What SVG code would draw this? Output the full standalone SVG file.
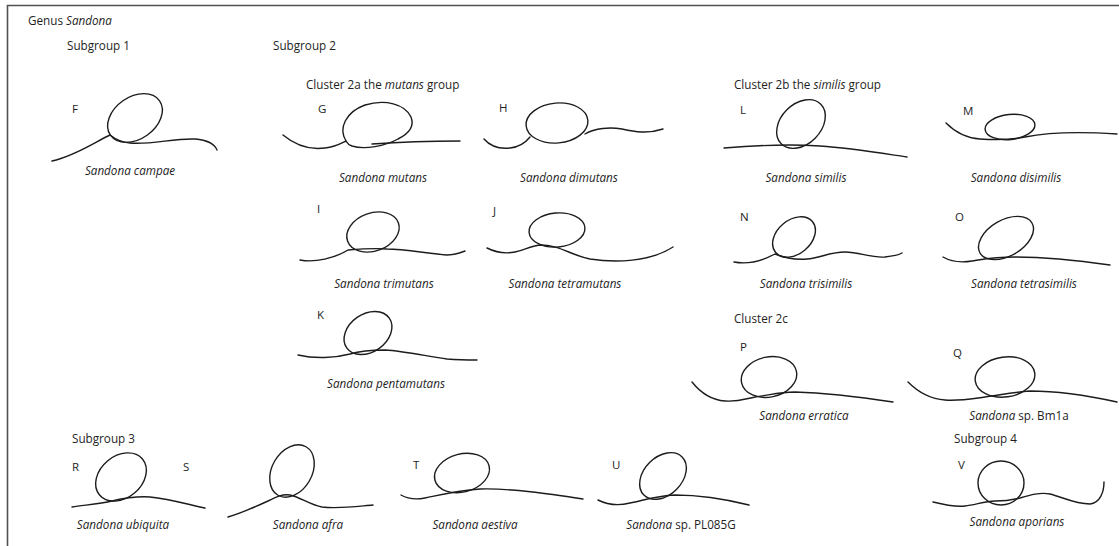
<svg xmlns="http://www.w3.org/2000/svg" width="1119" height="546" viewBox="0 0 1119 546">
  <style>
    text { font-family: "Open Sans", "Noto Sans", "Liberation Sans", sans-serif; font-size: 11.7px; fill: #1e1e1e; }
    .sp { text-anchor: middle; }
    .it { font-style: italic; }
    .lt { font-size: 11.5px; }
    .wire { fill: none; stroke: #1c1c1c; stroke-width: 1.4; stroke-linecap: round; stroke-linejoin: round; }
    .frame { fill: none; stroke: #505050; stroke-width: 1.6; }
  </style>

  <rect width="1119" height="546" fill="#fff"/>
  <!-- open frame: top and left edges only -->
  <path class="frame" d="M7.5,560 V5.5 H1125"/>

  <!-- headings -->
  <g id="headings">
    <text x="28" y="25">Genus <tspan class="it">Sandona</tspan></text>
    <text x="67" y="50">Subgroup 1</text>
    <text x="273" y="50">Subgroup 2</text>
    <text x="306" y="89">Cluster 2a the <tspan class="it">mutans</tspan> group</text>
    <text x="734" y="89">Cluster 2b the <tspan class="it">similis</tspan> group</text>
    <text x="734" y="323">Cluster 2c</text>
    <text x="72" y="443">Subgroup 3</text>
    <text x="954" y="443">Subgroup 4</text>
  </g>

  <!-- Subgroup 1 -->
  <g id="fig-F">
    <text class="lt" x="72" y="113">F</text>
    <ellipse class="wire" cx="135" cy="118" rx="30" ry="21" transform="rotate(-35 135 118)"/>
    <path class="wire" d="M52,161 C75,156 95,142 110,135 C115,139 120,142 130,143 C150,145 175,138 195,139 C208,140 215,145 217,150"/>
    <text class="sp it" x="130" y="175">Sandona campae</text>
  </g>

  <!-- Cluster 2a -->
  <g id="fig-G">
    <text class="lt" x="318" y="113">G</text>
    <path class="wire" d="M346,141 C338,128 346,112 365,105 C385,99 405,104 411,117 C415,127 408,134 398,139 C385,146 365,150 352,146 C349,145 347,143 346,141 Z"/>
    <path class="wire" d="M283,135 C295,145 310,150 325,148 C335,147 340,144 346,141 M372,144 C400,142 430,141 460,141"/>
    <text class="sp it" x="383" y="182">Sandona mutans</text>
  </g>

  <g id="fig-H">
    <text class="lt" x="499" y="112">H</text>
    <ellipse class="wire" cx="557" cy="123" rx="31" ry="20" transform="rotate(-5 557 123)"/>
    <path class="wire" d="M484,139 C490,146 500,149 510,148 C520,147 526,142 530,137 M585,134 C595,128 610,127 622,129 C635,132 648,134 663,129"/>
    <text class="sp it" x="569" y="182">Sandona dimutans</text>
  </g>

  <g id="fig-I">
    <text class="lt" x="317" y="213">I</text>
    <ellipse class="wire" cx="373" cy="232" rx="27" ry="19" transform="rotate(-20 373 232)"/>
    <path class="wire" d="M300,260 C315,263 335,258 348,250 C360,249 375,248 387,249 C405,249 430,254 447,255 C455,255 460,253 465,251"/>
    <text class="sp it" x="384" y="288">Sandona trimutans</text>
  </g>

  <g id="fig-J">
    <text class="lt" x="493" y="215">J</text>
    <ellipse class="wire" cx="557" cy="230" rx="28" ry="17" transform="rotate(-5 557 230)"/>
    <path class="wire" d="M487,248 C495,252 505,254 515,252 C525,250 530,246 540,245 C560,245 570,255 590,259 C615,263 650,262 673,247"/>
    <text class="sp it" x="565" y="288">Sandona tetramutans</text>
  </g>

  <g id="fig-K">
    <text class="lt" x="317" y="319">K</text>
    <ellipse class="wire" cx="368" cy="333" rx="26" ry="19" transform="rotate(-35 368 333)"/>
    <path class="wire" d="M298,355 C315,359 335,358 350,354 C360,351 370,350 385,350 C405,351 430,357 447,359 C460,360 470,360 477,360"/>
    <text class="sp it" x="386" y="388">Sandona pentamutans</text>
  </g>

  <!-- Cluster 2b -->
  <g id="fig-L">
    <text class="lt" x="740" y="114">L</text>
    <ellipse class="wire" cx="801" cy="124" rx="28" ry="20" transform="rotate(-45 801 124)"/>
    <path class="wire" d="M724,148 C760,145 790,144 820,146 C850,148 880,153 907,157"/>
    <text class="sp it" x="806" y="182">Sandona similis</text>
  </g>

  <g id="fig-M">
    <text class="lt" x="963" y="115">M</text>
    <ellipse class="wire" cx="1010" cy="127" rx="25" ry="12.5" transform="rotate(-6 1010 127)"/>
    <path class="wire" d="M946,123 C955,132 965,138 980,139 C995,140 1010,140 1025,137 C1045,133 1070,131 1117,134"/>
    <text class="sp it" x="1016" y="182">Sandona disimilis</text>
  </g>

  <g id="fig-N">
    <text class="lt" x="740" y="221">N</text>
    <ellipse class="wire" cx="794" cy="237" rx="24" ry="17" transform="rotate(-40 794 237)"/>
    <path class="wire" d="M734,262 C745,264 760,262 775,254 C785,258 795,260 807,259 C820,258 830,252 845,252 C860,252 870,258 885,257 C893,256 899,255 902,253"/>
    <text class="sp it" x="806" y="288">Sandona trisimilis</text>
  </g>

  <g id="fig-O">
    <text class="lt" x="955" y="221">O</text>
    <ellipse class="wire" cx="1006" cy="238" rx="30" ry="18" transform="rotate(-30 1006 238)"/>
    <path class="wire" d="M943,257 C950,261 960,263 972,261 C985,259 995,257 1015,257 C1045,257 1075,260 1110,265"/>
    <text class="sp it" x="1024" y="288">Sandona tetrasimilis</text>
  </g>

  <!-- Cluster 2c -->
  <g id="fig-P">
    <text class="lt" x="740" y="351">P</text>
    <ellipse class="wire" cx="769" cy="377" rx="28" ry="20" transform="rotate(-12 769 377)"/>
    <path class="wire" d="M692,382 C700,392 710,400 725,401 C738,402 745,399 755,397 C770,395 780,392 795,392 C830,393 860,397 893,402"/>
    <text class="sp it" x="804" y="420">Sandona erratica</text>
  </g>

  <g id="fig-Q">
    <text class="lt" x="953" y="357">Q</text>
    <ellipse class="wire" cx="1005" cy="377" rx="30" ry="20" transform="rotate(-8 1005 377)"/>
    <path class="wire" d="M908,382 C918,392 930,399 945,400 C960,401 970,399 985,397 C1000,395 1015,392 1030,391 C1060,391 1090,396 1117,402"/>
    <text class="sp" x="1019" y="420"><tspan class="it">Sandona</tspan> sp. Bm1a</text>
  </g>

  <!-- Subgroup 3 -->
  <g id="fig-R">
    <text class="lt" x="72" y="471">R</text>
    <ellipse class="wire" cx="121" cy="477" rx="28" ry="21" transform="rotate(-40 121 477)"/>
    <path class="wire" d="M72,507 C85,505 100,504 112,501 C125,498 135,496 150,497 C170,499 190,505 205,508"/>
    <text class="sp it" x="123" y="529">Sandona ubiquita</text>
  </g>

  <g id="fig-S">
    <text class="lt" x="183" y="471">S</text>
    <ellipse class="wire" cx="292" cy="471" rx="28" ry="20" transform="rotate(-60 292 471)"/>
    <path class="wire" d="M228,517 C238,514 255,507 268,501 C276,497 282,494 290,495 C300,497 310,505 322,507 C340,509 360,506 373,505"/>
    <text class="sp it" x="308" y="529">Sandona afra</text>
  </g>

  <g id="fig-T">
    <text class="lt" x="413" y="469">T</text>
    <ellipse class="wire" cx="462" cy="473" rx="28" ry="19" transform="rotate(-15 462 473)"/>
    <path class="wire" d="M401,495 C408,499 415,500 425,498 C440,495 455,491 480,489 C510,488 550,494 583,499"/>
    <text class="sp it" x="475" y="529">Sandona aestiva</text>
  </g>

  <g id="fig-U">
    <text class="lt" x="612" y="469">U</text>
    <ellipse class="wire" cx="663" cy="476" rx="27" ry="19" transform="rotate(-45 663 476)"/>
    <path class="wire" d="M598,500 C606,504 618,506 630,503 C645,500 655,496 675,495 C700,495 725,499 749,505"/>
    <text class="sp" x="681" y="529"><tspan class="it">Sandona</tspan> sp. PL085G</text>
  </g>

  <!-- Subgroup 4 -->
  <g id="fig-V">
    <text class="lt" x="958" y="469">V</text>
    <ellipse class="wire" cx="1001" cy="483" rx="23" ry="22"/>
    <path class="wire" d="M933,502 C945,505 955,507 965,506 C975,505 985,501 995,501 C1005,501 1012,500 1020,498 C1030,495 1040,492 1050,494 C1062,497 1075,504 1090,504 C1100,503 1104,492 1104,482"/>
    <text class="sp it" x="1017" y="526">Sandona aporians</text>
  </g>

  <!-- no connectors in this figure -->
  <g id="connectors"/>
</svg>
